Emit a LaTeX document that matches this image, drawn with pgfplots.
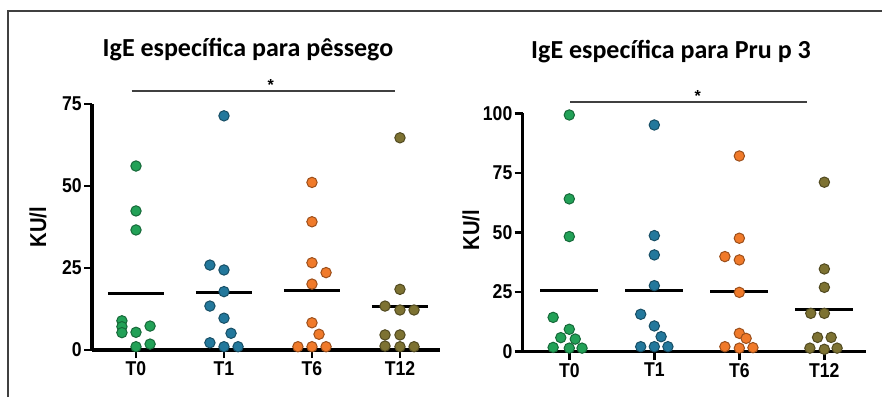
\documentclass[border=0pt]{standalone}
\usepackage{fontspec}
\setmainfont{Liberation Sans}
\newfontfamily\titlefont{Carlito}
\newfontfamily\tickfont{Liberation Sans}[FakeStretch=0.88]
\usepackage{pgfplots}
\pgfplotsset{compat=1.18}

\definecolor{cgreen}{HTML}{22A157}
\definecolor{cblue}{HTML}{23789C}
\definecolor{corange}{HTML}{F07A2A}
\definecolor{colive}{HTML}{7D7232}

\pgfplotsset{
  panel/.style={
    scale only axis,
    clip=false,
    axis x line*=bottom,
    axis y line*=left,
    axis line style={line width=1.6pt,black,-},
    tick align=outside,
    major tick length=4pt,
    tick style={line width=1.3pt,black},
    xtick={0,1,2,3},
    xticklabels={T0,T1,T6,T12},
    ticklabel style={font=\tickfont\bfseries\fontsize{10}{12}\selectfont},
    /pgf/number format/assume math mode=true,
    yticklabel style={inner sep=1pt},
    xticklabel style={inner sep=1.5pt},
  },
  dots/.style={only marks, mark=*, mark size=2.6pt, mark options={fill=#1, draw=#1!65!black, line width=0.5pt}},
  meanline/.style={no marks, line width=1.5pt, black},
  sigline/.style={no marks, line width=1pt, black!75},
}

\begin{document}
\begin{tikzpicture}
\useasboundingbox (0,0) rectangle (441pt,198.5pt);
\draw[line width=0.6pt, black!75] (4pt,0) -- (4pt,193pt) -- (441pt,193pt);

% ---------- Left panel ----------
\begin{axis}[panel, at={(46pt,23.5pt)}, anchor=south west,
  width=174pt, height=123pt,
  xmin=-0.5, xmax=3.455, ymin=0, ymax=75, ytick={0,25,50,75}]
\addplot[dots=cgreen] coordinates {(0,56.1) (0,42.4) (0,36.6) (-0.16,8.9) (-0.16,7.1) (-0.16,5.3) (0,5.4) (0.16,7.3) (0,1.0) (0.16,1.8)};
\addplot[dots=cblue] coordinates {(1,71.4) (0.84,25.9) (1,24.4) (1,17.8) (0.84,13.4) (1,9.7) (1.08,5.1) (0.84,2.2) (1,1.0) (1.16,1.0)};
\addplot[dots=corange] coordinates {(2,51.1) (2,39.1) (2,26.6) (2.16,23.6) (2,20.1) (2,8.3) (2.08,4.8) (1.84,1.0) (2,1.0) (2.16,1.0)};
\addplot[dots=colive] coordinates {(3,64.7) (3,18.5) (2.83,13.4) (3,12.2) (3.16,12.2) (2.83,4.6) (3,4.6) (2.83,1.2) (3,1.0) (3.16,1.0)};
\addplot[meanline] coordinates {(-0.32,17.3) (0.32,17.3)};
\addplot[meanline] coordinates {(0.68,17.6) (1.32,17.6)};
\addplot[meanline] coordinates {(1.68,18.0) (2.32,18.0)};
\addplot[meanline] coordinates {(2.68,13.3) (3.32,13.3)};
\addplot[sigline] coordinates {(-0.05,79.0) (2.94,79.0)};
\node[font=\bfseries\fontsize{8}{9}\selectfont, inner sep=0pt] at (axis cs:1.53,80.8) {*};
\end{axis}
\node[font=\titlefont\bfseries\fontsize{13}{15}\selectfont] at (124pt,173.5pt) {IgE específica para pêssego};
\node[font=\tickfont\bfseries\fontsize{11.5}{13}\selectfont, rotate=90] at (19pt,85pt) {KU/l};

% ---------- Right panel ----------
\begin{axis}[panel, at={(261.35pt,22.65pt)}, anchor=south west,
  width=171.65pt, height=119.2pt,
  xmin=-0.548, xmax=3.49, ymin=0, ymax=100, ytick={0,25,50,75,100}]
\addplot[dots=cgreen] coordinates {(0,99.3) (0,64.1) (0,48.3) (-0.19,14.4) (0,9.4) (-0.1,5.9) (0.07,5.3) (-0.19,1.8) (0,1.5) (0.15,1.5)};
\addplot[dots=cblue] coordinates {(1,95.1) (1,48.7) (1,40.6) (1,27.7) (0.84,15.7) (1,10.8) (1.08,6.3) (0.84,2.1) (1,2.1) (1.16,2.1)};
\addplot[dots=corange] coordinates {(2,82.1) (2,47.6) (1.83,39.9) (2,38.5) (2,24.9) (2,7.7) (2.08,5.6) (1.83,2.1) (2,1.5) (2.16,1.7)};
\addplot[dots=colive] coordinates {(3,71.1) (3,34.7) (3,27.0) (2.84,16.1) (3,16.1) (2.92,6.0) (3.08,6.0) (2.83,1.5) (3,1.0) (3.15,1.5)};
\addplot[meanline] coordinates {(-0.34,25.5) (0.34,25.5)};
\addplot[meanline] coordinates {(0.66,25.5) (1.34,25.5)};
\addplot[meanline] coordinates {(1.66,25.3) (2.34,25.3)};
\addplot[meanline] coordinates {(2.66,17.8) (3.34,17.8)};
\addplot[sigline] coordinates {(0.01,104.7) (2.80,104.7)};
\node[font=\bfseries\fontsize{8}{9}\selectfont, inner sep=0pt] at (axis cs:1.51,107.2) {*};
\end{axis}
\node[font=\titlefont\bfseries\fontsize{13}{15}\selectfont] at (335.5pt,172.5pt) {IgE específica para Pru p 3};
\node[font=\tickfont\bfseries\fontsize{11.5}{13}\selectfont, rotate=90] at (235.5pt,83.5pt) {KU/l};
\end{tikzpicture}
\end{document}
